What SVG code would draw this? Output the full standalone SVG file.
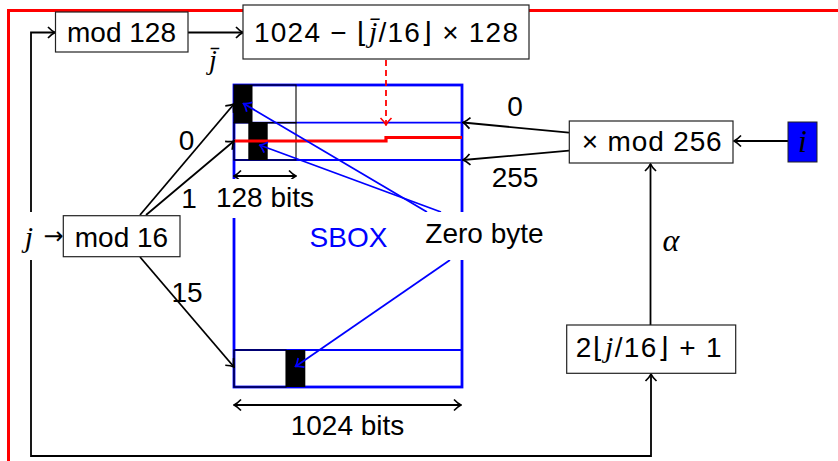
<svg xmlns="http://www.w3.org/2000/svg" width="838" height="461" viewBox="0 0 838 461">
<style>
.box{fill:#fff;stroke:#222;stroke-width:1.2}
.t{font-family:"Liberation Sans",Arial,"DejaVu Sans",sans-serif;font-size:28px;fill:#000}
.m{font-family:"Liberation Serif","DejaVu Serif",serif;font-style:italic}
.c{fill:none;stroke:#000;stroke-width:1.8}
.cb{fill:none;stroke:#0000ff;stroke-width:1.8}
.sb{fill:none;stroke:#0000ff;stroke-width:2.8}
.row{fill:none;stroke:#0000ff;stroke-width:1.8}
.thin{fill:none;stroke:#000;stroke-width:1.1}
</style>
<defs>
<marker id="ak" viewBox="-9 -7 10 14" markerWidth="10" markerHeight="14" refX="0" refY="0" orient="auto" markerUnits="userSpaceOnUse"><path d="M-7,-5.5 Q-3,-1.3 0,0 Q-3,1.3 -7,5.5" fill="none" stroke="#000" stroke-width="1.7"/></marker>
<marker id="ab" viewBox="-9 -7 10 14" markerWidth="10" markerHeight="14" refX="0" refY="0" orient="auto" markerUnits="userSpaceOnUse"><path d="M-7,-5.5 Q-3,-1.3 0,0 Q-3,1.3 -7,5.5" fill="none" stroke="#0000ff" stroke-width="1.7"/></marker>
<marker id="ar" viewBox="-9 -7 10 14" markerWidth="10" markerHeight="14" refX="0" refY="0" orient="auto" markerUnits="userSpaceOnUse"><path d="M-7,-5.5 Q-3,-1.3 0,0 Q-3,1.3 -7,5.5" fill="none" stroke="#ff0000" stroke-width="1.7"/></marker>
<marker id="ak2" viewBox="-9 -7 10 14" markerWidth="10" markerHeight="14" refX="0" refY="0" orient="auto-start-reverse" markerUnits="userSpaceOnUse"><path d="M-7,-5.5 Q-3,-1.3 0,0 Q-3,1.3 -7,5.5" fill="none" stroke="#000" stroke-width="1.7"/></marker>
</defs>
<rect width="838" height="461" fill="#fff"/>
<!-- red frame -->
<path d="M8.5,461 V10.5 H838" fill="none" stroke="#ff0000" stroke-width="3"/>

<g id="sbox">
<rect x="234" y="85" width="228" height="302" class="sb"/>
<line x1="234" y1="122.7" x2="462" y2="122.7" class="row"/>
<line x1="234" y1="160" x2="462" y2="160" class="row"/>
<line x1="234" y1="350" x2="462" y2="350" class="row"/>
<rect x="234" y="85" width="62" height="37.7" class="thin"/>
<rect x="234" y="122.7" width="62" height="37.3" class="thin"/>
<rect x="234" y="350" width="52" height="37" class="thin"/>
<rect x="234" y="85" width="18.5" height="37.7" fill="#000"/>
<rect x="248.3" y="122.7" width="19.4" height="37.3" fill="#000"/>
<rect x="286" y="350" width="19.3" height="37" fill="#000"/>
<path d="M234,141 H386 V137.5 H462" fill="none" stroke="#ff0000" stroke-width="3.2"/>
<text x="348.5" y="247" text-anchor="middle" class="t" style="fill:#0000ff">SBOX</text>
</g>

<g id="connectors">
<!-- j feedback lines -->
<path d="M31,212 V32.5 H55" class="c" marker-end="url(#ak)"/>
<path d="M31,260 V456 H651 V374" class="c" marker-end="url(#ak)"/>
<line x1="188" y1="32.5" x2="243" y2="32.5" class="c" marker-end="url(#ak)"/>
<!-- red dashed -->
<line x1="386" y1="60" x2="386" y2="125" fill="none" stroke="#ff0000" stroke-width="1.8" stroke-dasharray="6,4" marker-end="url(#ar)"/>
<!-- mod 16 to rows -->
<line x1="140" y1="215" x2="234" y2="104" class="c" marker-end="url(#ak)"/>
<line x1="146" y1="215" x2="234" y2="141" class="c" marker-end="url(#ak)"/>
<line x1="140" y1="257" x2="234" y2="367" class="c" marker-end="url(#ak)"/>
<!-- mod256 to rows -->
<line x1="569" y1="132.7" x2="463" y2="122.5" class="c" marker-end="url(#ak)"/>
<line x1="569" y1="150.7" x2="463" y2="160" class="c" marker-end="url(#ak)"/>
<line x1="788" y1="141" x2="734" y2="141" class="c" marker-end="url(#ak)"/>
<line x1="650.5" y1="325" x2="650.5" y2="164" class="c" marker-end="url(#ak)"/>
<!-- width arrows -->
<line x1="234" y1="176" x2="296" y2="176" class="c" marker-start="url(#ak2)" marker-end="url(#ak2)"/>
<line x1="234" y1="405" x2="461" y2="405" class="c" marker-start="url(#ak2)" marker-end="url(#ak2)"/>
<!-- zero byte arrows -->
<line x1="427" y1="212" x2="243.5" y2="103.5" class="cb" marker-end="url(#ab)"/>
<line x1="441" y1="212" x2="259.5" y2="145" class="cb" marker-end="url(#ab)"/>
<line x1="450" y1="260" x2="295.5" y2="366.5" class="cb" marker-end="url(#ab)"/>
</g>

<g id="lbl-128bits">
<rect x="212" y="179" width="106" height="39" fill="#fff"/>
<text x="265" y="207" text-anchor="middle" class="t">128 bits</text>
</g>
<g id="lbl-zerobyte">
<rect x="418" y="212" width="133" height="48" fill="#fff"/>
<text x="484.5" y="243" text-anchor="middle" class="t">Zero byte</text>
</g>
<g id="lbl-1024bits">
<text x="347.5" y="435" text-anchor="middle" class="t">1024 bits</text>
</g>

<g id="mod128">
<rect x="55.5" y="12" width="132.5" height="40" class="box"/>
<text x="121.5" y="42" text-anchor="middle" class="t">mod 128</text>
</g>
<g id="offset">
<rect x="243" y="5" width="286" height="54" class="box"/>
<text x="386" y="42" text-anchor="middle" class="t" textLength="264" lengthAdjust="spacing">1024 − ⌊<tspan class="m" style="font-size:30px">j̄</tspan>/16⌋ × 128</text>
</g>
<g id="jbar">
<text x="213" y="69" text-anchor="middle" class="t m" style="font-size:28px">j̄</text>
</g>
<g id="j">
<text x="29" y="247" text-anchor="middle" class="t m" style="font-size:30px">j</text>
<text x="53.5" y="244" text-anchor="middle" style="font-family:'DejaVu Sans',sans-serif;font-size:24px;fill:#000">→</text>
</g>
<g id="mod16">
<rect x="63.3" y="215.7" width="116.7" height="41" class="box"/>
<text x="121.5" y="246.7" text-anchor="middle" class="t">mod 16</text>
</g>
<g id="mod256">
<rect x="569.3" y="121" width="163.7" height="42" class="box"/>
<text x="651.7" y="151" text-anchor="middle" class="t" textLength="140" lengthAdjust="spacing">× mod 256</text>
</g>
<g id="i">
<rect x="788" y="122" width="29" height="40" fill="#0000ff" stroke="#222" stroke-width="1"/>
<text x="802.5" y="152" text-anchor="middle" class="t m" style="font-size:32px">i</text>
</g>
<g id="alphaexpr">
<rect x="566.7" y="325" width="169" height="48.3" class="box"/>
<text x="648.7" y="357" text-anchor="middle" class="t" textLength="146" lengthAdjust="spacing">2⌊<tspan class="m" style="font-size:30px">j</tspan>/16⌋ + 1</text>
</g>
<g id="labels">
<text x="186.5" y="150" text-anchor="middle" class="t">0</text>
<text x="189" y="208" text-anchor="middle" class="t">1</text>
<text x="187" y="302" text-anchor="middle" class="t">15</text>
<text x="515" y="116" text-anchor="middle" class="t">0</text>
<text x="515" y="187" text-anchor="middle" class="t">255</text>
<text x="671" y="251" text-anchor="middle" class="t m" style="font-size:32px">α</text>
</g>
</svg>
